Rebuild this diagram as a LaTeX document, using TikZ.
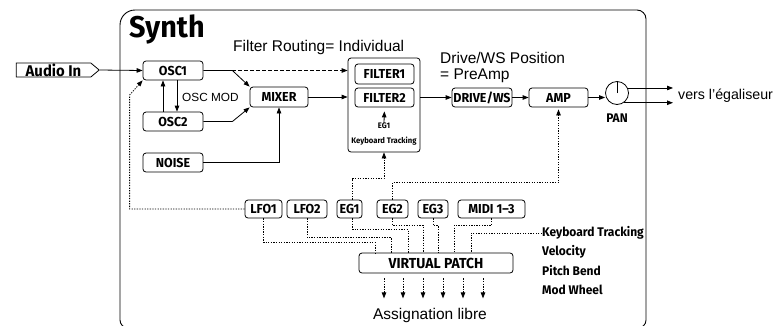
\documentclass[tikz,border=0pt]{standalone}
\usepackage{fontspec}
\setmainfont{Liberation Sans}
\newfontfamily\condfont[FakeStretch=0.96]{Fira Sans}
\usepackage{tikz}
\usetikzlibrary{arrows.meta,shapes.symbols,positioning}

\begin{document}
\begin{tikzpicture}[x=1pt,y=-1pt]
  \tikzstyle{every node}+=[inner sep=0pt]
  \tikzstyle{tag}=[font=\condfont\bfseries\fontsize{12.5}{12.5}\selectfont]
  \tikzstyle{smalltag}=[font=\condfont\bfseries\fontsize{8}{8}\selectfont]
  \tikzstyle{blk}=[draw, rounded corners=3pt, line width=0.8pt, minimum height=19pt, font=\condfont\bfseries\fontsize{13}{13}\selectfont]
  \tikzstyle{txt}=[font=\fontsize{15.5}{15.5}\selectfont]
  \tikzstyle{wire}=[line width=0.8pt, -{Triangle[length=6pt,width=4.5pt]}]
  \tikzstyle{cvline}=[line width=0.8pt, dash pattern=on 1.3pt off 1.3pt]
  \tikzstyle{cv}=[wire, cvline]
  \useasboundingbox (0,0) rectangle (775,325);
  % frame
  \begin{scope}
    \clip (0,0) rectangle (775,325);
    \draw[line width=0.9pt] (120,200) [rounded corners=15pt] -- (120,10) [rounded corners=9pt] -- (646,10) [rounded corners=8pt] -- (646,328) -- (120,328) -- cycle;
  \end{scope}
  \node[anchor=base west, font=\condfont\bfseries\fontsize{30}{30}\selectfont] (synth) at (129,37) {Synth};
  \node[txt, anchor=base west] (routing) at (233,51) {Filter Routing= Individual};
  \node[txt, anchor=base west] (drvpos) at (440,63) {Drive/WS Position};
  \node[txt, anchor=base west] (preamp) at (440,79) {= PreAmp};
  % audio path
  \node[signal, signal to=east, signal pointer angle=80, draw, line width=0.8pt, minimum width=83pt, minimum height=14pt] (audio) at (53.5,70) {\condfont\bfseries\fontsize{15.5}{15.5}\selectfont Audio In};
  \node[blk, minimum width=60pt] (osc1) at (173,70.5) {OSC1};
  \node[blk, minimum width=60pt] (osc2) at (173,121.5) {OSC2};
  \node[blk, minimum width=60pt] (noise) at (173,162.5) {NOISE};
  \node[anchor=base west, font=\fontsize{11.8}{11.8}\selectfont] (oscmod) at (182,101.5) {OSC MOD};
  \node[blk, minimum width=58pt, minimum height=20pt] (mixer) at (279,97) {MIXER};
  \node[blk, minimum width=72pt, minimum height=94pt] (filt) at (384,105) {};
  \node[blk, minimum width=59pt, minimum height=20pt] (filter1) at (384.5,74) {FILTER1};
  \node[blk, minimum width=59pt] (filter2) at (384.5,97.5) {FILTER2};
  \node[smalltag] (eg1f) at (384,126) {EG1};
  \node[smalltag] (kbdf) at (384,141) {Keyboard Tracking};
  \node[blk, minimum width=60pt] (drive) at (482,97.5) {DRIVE/WS};
  \node[blk, minimum width=59pt] (amp) at (558.5,97.5) {AMP};
  \node[draw, circle, line width=0.8pt, minimum size=23pt] (pan) at (617,93) {};
  \draw[line width=0.8pt] (pan.center) -- (pan.north);
  \node[tag] (panlbl) at (617,118) {PAN};
  \coordinate (outtip) at (673,96);
  \node[anchor=west, font=\fontsize{14.2}{14.2}\selectfont] (vers) at (678,96) {vers l’égaliseur};
  % modulation sources
  \node[blk, minimum width=37pt, minimum height=18pt] (lfo1) at (263.5,209) {LFO1};
  \node[blk, minimum width=40pt, minimum height=18pt] (lfo2) at (307,209) {LFO2};
  \node[blk, minimum width=25pt, minimum height=18pt] (eg1) at (349.5,209) {EG1};
  \node[blk, minimum width=31pt, minimum height=18pt] (eg2) at (392.5,209) {EG2};
  \node[blk, minimum width=30pt, minimum height=18pt] (eg3) at (433,209) {EG3};
  \node[blk, minimum width=67pt, minimum height=18pt] (midi) at (491.5,209) {MIDI 1–3};
  \node[blk, minimum width=154pt, minimum height=20pt, font=\condfont\bfseries\fontsize{14.5}{14.5}\selectfont] (vpatch) at (436,263) {VIRTUAL PATCH};
  \node[tag, anchor=west] (kt) at (542,233) {Keyboard Tracking};
  \node[tag, anchor=west] (vel) at (542,252) {Velocity};
  \node[tag, anchor=west] (pb) at (542,271) {Pitch Bend};
  \node[tag, anchor=west] (mw) at (542,290) {Mod Wheel};
  \node[txt] (assign) at (430,315) {Assignation libre};
  % audio connections
  \draw[wire] (audio.east) -- (osc1.west);
  \draw[wire] (osc1.east) -- ++(29,0) -- (mixer.north west);
  \draw[wire, dash pattern=on 4pt off 2pt] ([xshift=29pt]osc1.east) -- (osc1.east -| filt.west);
  \draw[wire] (osc2.east) -- ++(29,0) -- (mixer.south west);
  \draw[wire] (noise.east) -| (mixer.south);
  \draw[wire] ([xshift=-10pt]osc2.north) -- ([xshift=-10pt]osc1.south);
  \draw[wire] ([xshift=4pt]osc1.south) -- ([xshift=4pt]osc2.north);
  \draw[wire] (mixer.east) -- (mixer.east -| filt.west);
  \draw[wire] (filt.east |- drive.west) -- (drive.west);
  \draw[wire] (drive.east) -- (amp.west);
  \draw[wire] (amp.east) -- (amp.east -| pan.west);
  \draw[wire] (pan.25) -- (pan.25 -| outtip);
  \draw[wire] (pan.-55) -- (pan.-55 -| outtip);
  \draw[wire, shorten >=4pt] (eg1f.north) -- (filter2.south);
  % modulation connections
  \draw[cv] (lfo1.west) -- ++(-115,0) -- ++(0,-114) -- (osc1.south west);
  \draw[cv] ([xshift=3pt]eg1.north) -- ++(0,-21) -| (filt.south);
  \draw[cv, shorten >=2pt] (eg2.north) -- ++(0,-17) -| (amp.south);
  \draw[cvline] (lfo1.south) -- ++(0,24) -| ([xshift=-61pt]vpatch.north);
  \draw[cvline] (lfo2.south) -- ++(0,19) -| ([xshift=-45pt]vpatch.north);
  \draw[cvline] ([xshift=3pt]eg1.south) -- ++(0,11) -| ([xshift=-28pt]vpatch.north);
  \draw[cvline] (eg2.south) -- ++(0,7) -| ([xshift=-13pt]vpatch.north);
  \draw[cvline] (eg3.south) -- ++(0,7) -| ([xshift=2pt]vpatch.north);
  \draw[cvline] (midi.south) -- ++(0,7) -| ([xshift=18pt]vpatch.north);
  \draw[cvline] (kt.west) -| ([xshift=35pt]vpatch.north);
  \foreach \dx in {-52,-33,-13,7,27,47}
    \draw[cv] ([xshift=\dx pt, yshift=-5pt]vpatch.south) -- ++(0,20);
\end{tikzpicture}
\end{document}
